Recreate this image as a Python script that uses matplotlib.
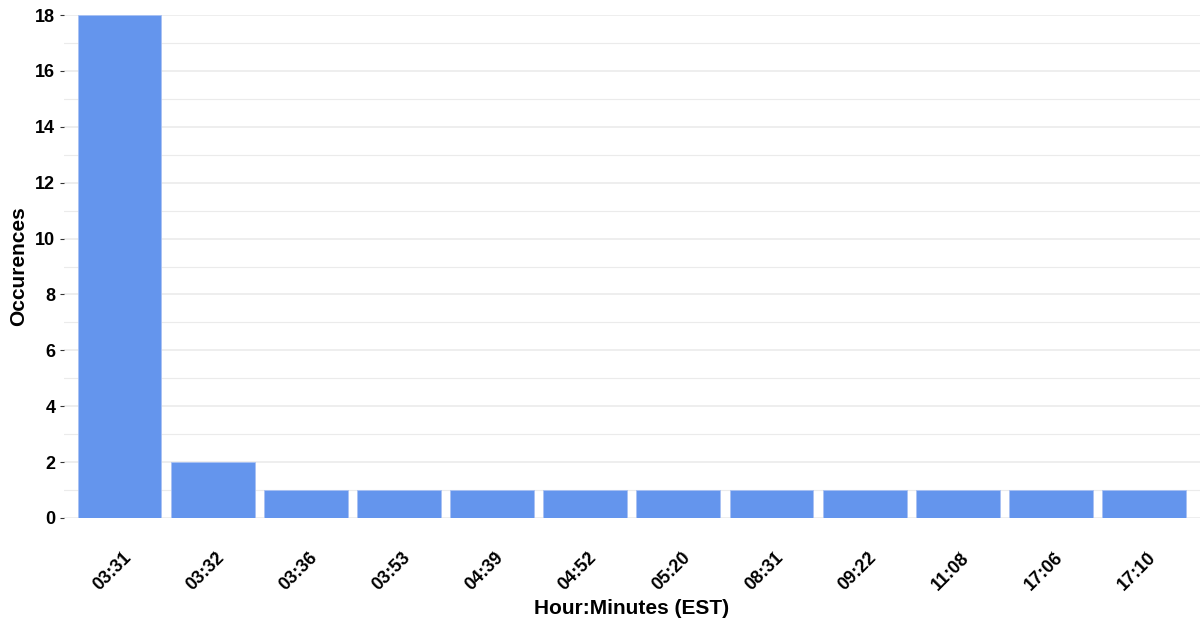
import matplotlib
matplotlib.use("Agg")
import matplotlib.pyplot as plt
import matplotlib.transforms as mtransforms
from matplotlib.ticker import MultipleLocator

times = ["03:31", "03:32", "03:36", "03:53", "04:39", "04:52", "05:20",
         "08:31", "09:22", "11:08", "17:06", "17:10"]
counts = [18, 2, 1, 1, 1, 1, 1, 1, 1, 1, 1, 1]

plt.rcParams['font.family'] = ['Liberation Sans', 'DejaVu Sans']

fig = plt.figure(figsize=(12, 6.24), dpi=100)
ax = fig.add_axes([63.6 / 1200, 106 / 624, 1136.4 / 1200, 503 / 624])

x = list(range(1, len(times) + 1))
ax.bar(x, counts, width=0.9, color="#6495ED", edgecolor="#a9c1f3", linewidth=0.6, zorder=3)

ax.set_xlim(0.4, len(times) + 0.6)
ax.set_ylim(0, 18)
ax.yaxis.set_major_locator(MultipleLocator(2))
ax.yaxis.set_minor_locator(MultipleLocator(1))
ax.grid(which="major", axis="y", color="#EBEBEB", linewidth=1.2, zorder=0)
ax.grid(which="minor", axis="y", color="#EBEBEB", linewidth=0.8, zorder=0)
ax.tick_params(axis="y", which="minor", length=0)

for s in ax.spines.values():
    s.set_visible(False)
ax.spines["bottom"].set_position(("outward", 24))

ax.set_xticks(x)
ax.set_xticklabels(times, rotation=45, ha="right", rotation_mode="anchor",
                   fontsize=13, fontweight="bold", color="black")
ax.tick_params(axis="x", length=3, width=0.8, color="#333333", pad=0)
offset = mtransforms.ScaledTranslation(3 / 100, 6 / 100, fig.dpi_scale_trans)
for lab in ax.get_xticklabels():
    lab.set_transform(lab.get_transform() + offset)

ax.tick_params(axis="y", which="major", length=3, width=0.8, color="#333333",
               labelsize=13, pad=3)
for lab in ax.get_yticklabels():
    lab.set_fontweight("bold")

fig.text(631.8 / 1200, 16 / 624, "Hour:Minutes (EST)", fontsize=15,
         fontweight="bold", ha="center", va="center")
ax.set_ylabel("Occurences", fontsize=15, fontweight="bold", labelpad=5)

fig.savefig("out.png", dpi=100)
